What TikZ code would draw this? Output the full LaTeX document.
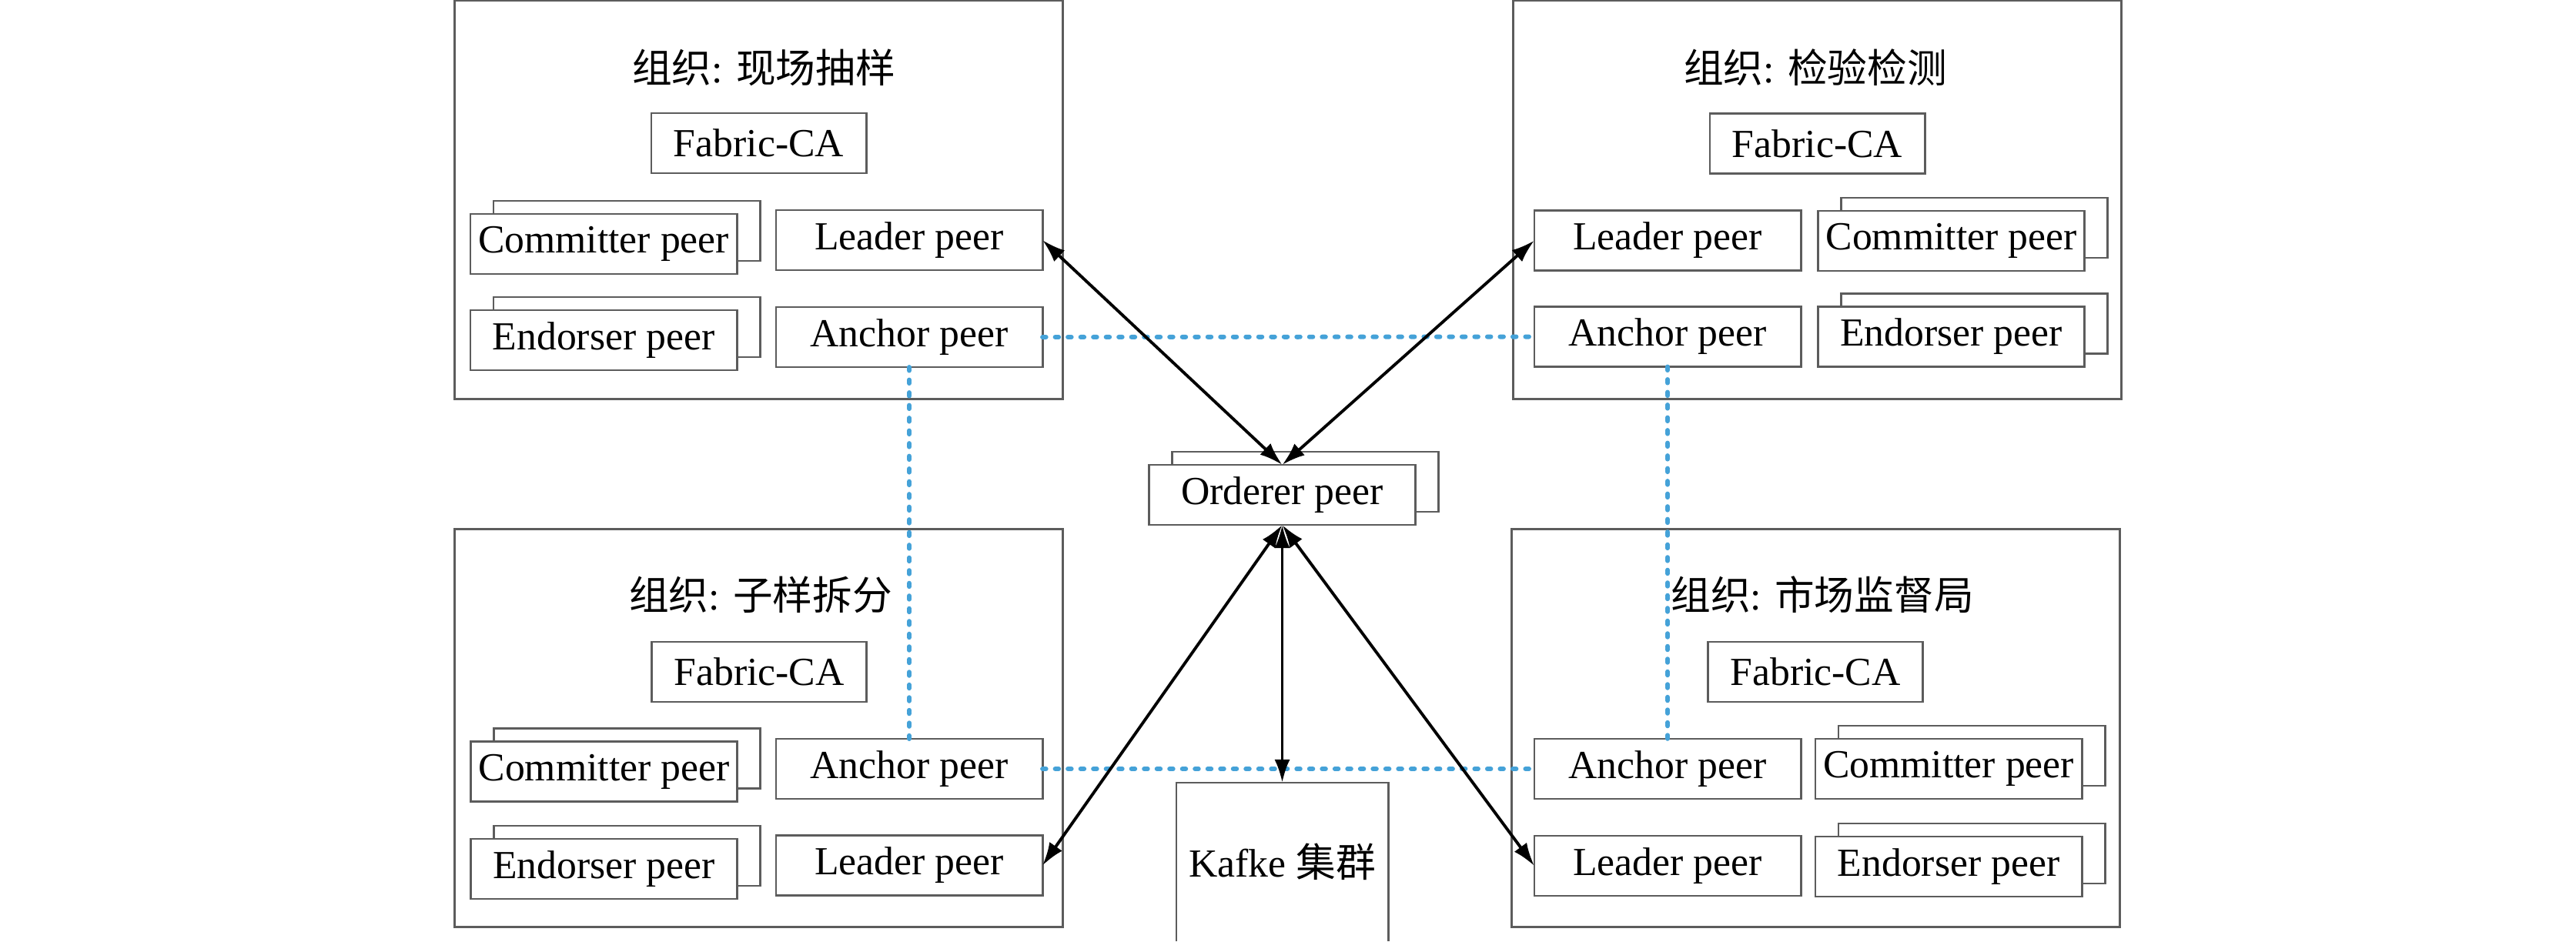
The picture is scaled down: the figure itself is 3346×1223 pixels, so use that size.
\documentclass[tikz,border=0pt]{standalone}
\usepackage{fontspec}
\setmainfont{Liberation Serif}
\newfontfamily\cjk{Noto Sans CJK SC}
\newcommand{\zh}[1]{{\cjk #1}}
\usepackage{tikz}
\usetikzlibrary{arrows.meta,positioning,shadows}
\definecolor{fabLine}{HTML}{5C5C5C}
\definecolor{fabBlue}{HTML}{45A2D8}
\tikzset{
    fabBoxBase/.style={
        rectangle,
        draw=fabLine,
        line width=0.8pt,
        fill=white,
        inner sep=0pt,
        outer sep=0pt,
        font=\fontsize{14.7}{17}\selectfont,
        align=center
    },
    % Boxes
    peer/.style={fabBoxBase, minimum width=3.46cm, minimum height=0.78cm},
    stackPeer/.style={peer, copy shadow={shadow xshift=0.3cm, shadow yshift=0.17cm, draw=fabLine, fill=white, line width=0.8pt}},
    ca/.style={fabBoxBase, minimum width=2.79cm, minimum height=0.78cm},
    org/.style={rectangle, draw=fabLine, line width=0.8pt, inner sep=0pt, outer sep=0pt, minimum width=7.89cm, minimum height=5.17cm},
    orgTitle/.style={font=\fontsize{14.7}{17}\selectfont, inner sep=0pt},
    % Links
    fabArrow/.style={{Latex[length=0.3cm,width=0.2cm]}-{Latex[length=0.3cm,width=0.2cm]}, line width=1.1pt, black},
    anchorLink/.style={draw=fabBlue, line width=1.7pt, line cap=round, dash pattern=on 0.045cm off 0.12cm}
}

\begin{document}
\begin{tikzpicture}[x=0.01cm, y=-0.01cm]
\useasboundingbox (0,0) rectangle (3346,1223);

% Organisation frames
\node[org] (tl-org) at (985.5,259.5) {};
\node[org] (tr-org) at (2360.5,259.5) {};
\node[org] (bl-org) at (985.5,946) {};
\node[org] (br-org) at (2358.5,946) {};

\node[orgTitle] (tl-title) at (992,88) {\zh{组织}: \zh{现场抽样}};
\node[orgTitle] (tr-title) at (2358,88) {\zh{组织}: \zh{检验检测}};
\node[orgTitle] (bl-title) at (988,773) {\zh{组织}: \zh{子样拆分}};
\node[orgTitle] (br-title) at (2367,773) {\zh{组织}: \zh{市场监督局}};

% CA servers
\foreach \o/\x/\y in {tl/985.5/186, tr/2360.5/186.5, bl/986/873, br/2358/873} {
    \node[ca] (\o-ca) at (\x,\y) {Fabric-CA};
}

% Stacked peers
\foreach \n/\x/\y/\t in {tl-commit/784/317/Committer peer, tl-endorse/784/442/Endorser peer,
                         tr-commit/2534.5/313/Committer peer, tr-endorse/2534.5/437.5/Endorser peer,
                         bl-commit/784.5/1002.5/Committer peer, bl-endorse/784.5/1129/Endorser peer,
                         br-commit/2531/999/Committer peer, br-endorse/2531/1126/Endorser peer} {
    \node[stackPeer] (\n) at (\x,\y) {\t};
}

% Single peers
\foreach \n/\x/\y/\t in {tl-leader/1181/312/Leader peer, tl-anchor/1181/438/Anchor peer,
                         tr-leader/2166/312.5/Leader peer, tr-anchor/2166/437.5/Anchor peer,
                         bl-anchor/1181/999/Anchor peer, bl-leader/1181/1124.5/Leader peer,
                         br-anchor/2166/999/Anchor peer, br-leader/2166/1125/Leader peer} {
    \node[peer] (\n) at (\x,\y) {\t};
}

% Ordering service
\node[stackPeer] (orderer) at (1665.5,643) {Orderer peer};
\node[fabBoxBase, draw=none, fill=none, minimum width=2.75cm, minimum height=2.06cm] (kafka) at (1665.5,1120) {Kafke \zh{集群}};
\draw[fabLine, line width=0.8pt] (kafka.south west) -- (kafka.north west) -- (kafka.north east) -- (kafka.south east);

% Anchor peer links
\draw[anchorLink] (tl-anchor.east) -- (tr-anchor.west);
\draw[anchorLink] (tl-anchor.south) -- (bl-anchor.north);
\draw[anchorLink] (tr-anchor.south) -- (br-anchor.north);
\draw[anchorLink] (bl-anchor.east) -- (br-anchor.west);

% Leader peers to orderer
\draw[fabArrow] (tl-leader.east) -- (orderer.north);
\draw[fabArrow] (tr-leader.west) -- (orderer.north);
\draw[fabArrow] (orderer.south) -- (bl-leader.east);
\draw[fabArrow] (orderer.south) -- (br-leader.west);
\draw[fabArrow] (orderer.south) -- (kafka.north);
\end{tikzpicture}
\end{document}
